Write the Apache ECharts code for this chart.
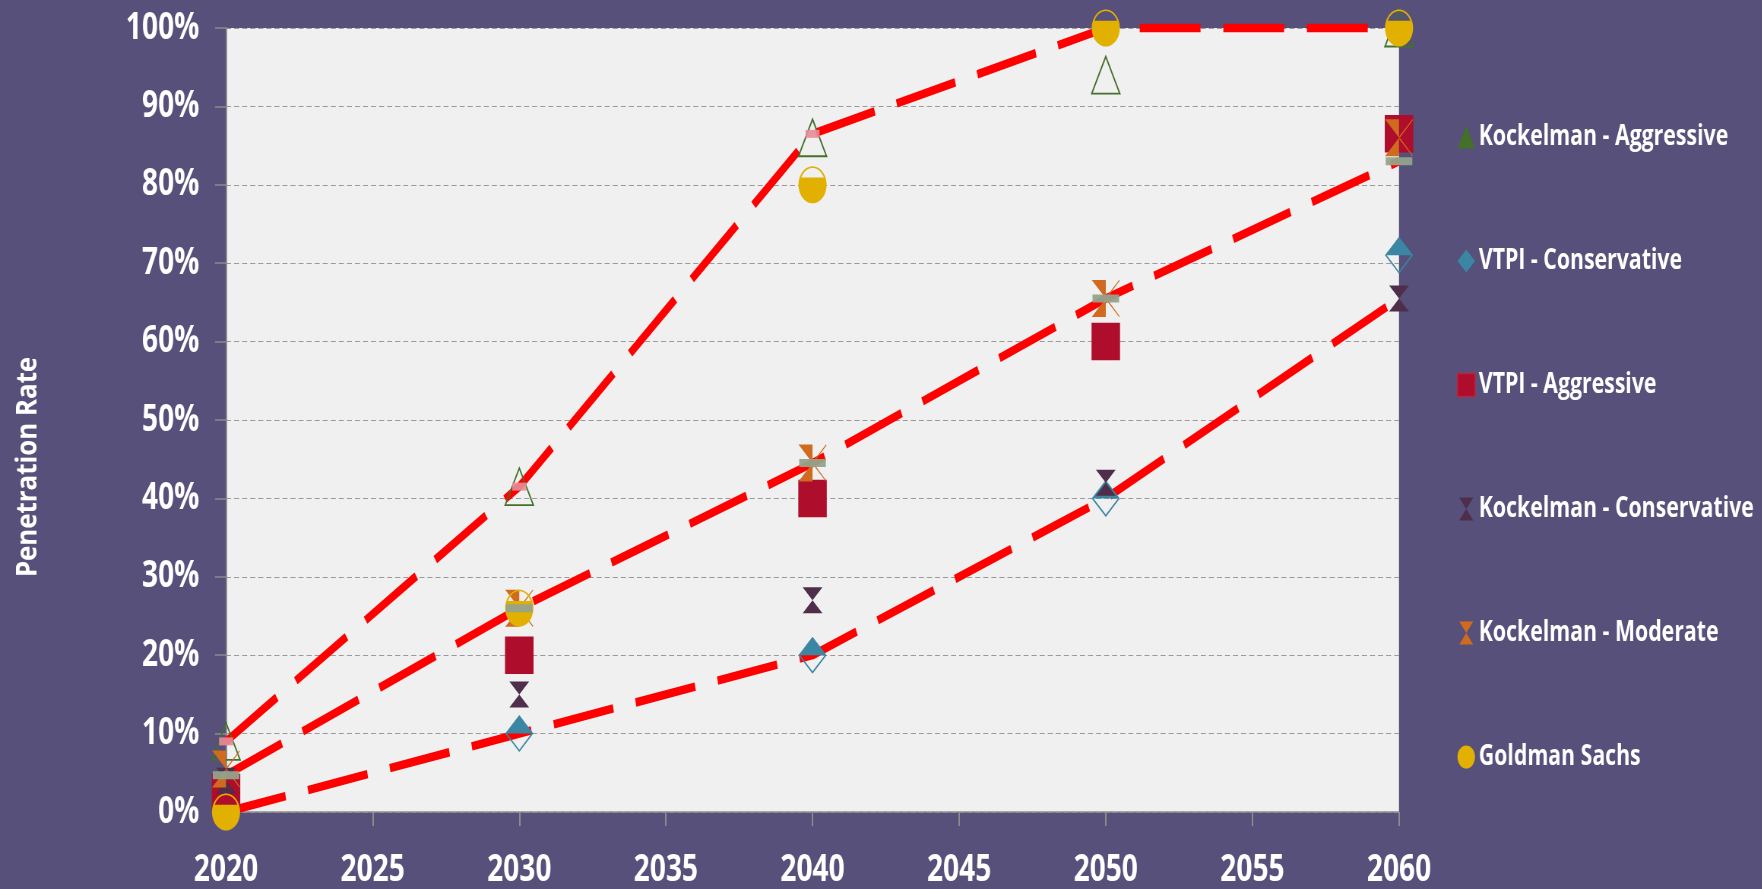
<!DOCTYPE html>
<html>
<head>
<meta charset="utf-8">
<script src="https://cdn.jsdelivr.net/npm/echarts/dist/echarts.min.js"></script>
<style>
html,body{margin:0;padding:0;background:#56507A;overflow:hidden;width:1762px;height:889px;}
/* the reference picture is horizontally compressed; draw wide and compress the same way */
#chart{width:2318px;height:889px;transform:scaleX(0.76);transform-origin:0 0;}
</style>
</head>
<body>
<div id="chart"></div>
<script>
// ---- data ----
const years = [2020, 2030, 2040, 2050, 2060];
const xTicks = [2020, 2025, 2030, 2035, 2040, 2045, 2050, 2055, 2060];
const yTicks = [0, 10, 20, 30, 40, 50, 60, 70, 80, 90, 100];
const kockelmanAggressive = [9, 41.5, 86, 94, 100];
const vtpiConservative = [1, 10, 20, 40, 71];
const vtpiAggressive = [2.5, 20, 40, 60, 86.5];
const kockelmanConservative = [4, 15, 27, 42, 65.5];
const kockelmanModerate = [5.5, 26, 44.5, 65.5, 86];
const goldmanSachs = [0, 26, 80, 100, 100];
const upperTrend = [9, 41.5, 86.5, 100, 100];
const middleTrend = [4.7, 26, 44.5, 65.5, 83];
const lowerTrend = [0, 10, 20, 40, 65.5];
const seriesNames = ['Kockelman - Aggressive', 'VTPI - Conservative', 'VTPI - Aggressive',
  'Kockelman - Conservative', 'Kockelman - Moderate', 'Goldman Sachs'];
const yTitle = 'Penetration Rate';

function pairs(vals) { return years.map((y, i) => [y, vals[i]]); }

// ---- marker shapes ----
const FONT = "'Open Sans', Lato, sans-serif";
const hourglass = 'path://M0,0L20,0L10,12.5L20,25L0,25L10,12.5Z';
const halfBowtie = 'path://M0,0L14,0L14,37L0,37L14,18.5Z M14,17.6L27.3,0L28,0.6L14.8,18.5Z M14.8,18.5L28,36.4L27.3,37L14,19.4Z';
const halfDiamond = 'path://M14,0L28,18.5L0,18.5Z M0,18.5L14,37L28,18.5L26.2,18.5L14,34.6L1.8,18.5Z';
function ellipsePt(cx, cy, rx, ry, t) { return [cx + rx * Math.cos(t), cy + ry * Math.sin(t)]; }
function fmt(p) { return p[0].toFixed(2) + ',' + p[1].toFixed(2); }
function goldmanPath() {
  const cx = 14, cy = 18.5, rx = 14, ry = 18.5;
  const a = Math.asin((11.3 - cy) / ry);
  let s = 'path://';
  const n = 40;
  for (let i = 0; i <= n; i++) {
    const t = a + (Math.PI - 2 * a) * i / n;
    s += (i === 0 ? 'M' : 'L') + fmt(ellipsePt(cx, cy, rx, ry, t));
  }
  s += 'Z ';
  const t0 = Math.PI + a - 0.05, t1 = 2 * Math.PI - a + 0.05;
  for (let i = 0; i <= n; i++) {
    const t = t0 + (t1 - t0) * i / n;
    s += (i === 0 ? 'M' : 'L') + fmt(ellipsePt(cx, cy, rx, ry, t));
  }
  for (let i = n; i >= 0; i--) {
    const t = t0 + (t1 - t0) * i / n;
    s += 'L' + fmt(ellipsePt(cx, cy, rx - 1.6, ry - 1.6, t));
  }
  s += 'Z';
  return s;
}

const C = {
  green: '#44702A', teal: '#3B87A3', crimson: '#AE0D2B', purple: '#4E2E4A',
  orange: '#CF6A1F', yellow: '#E2B000', pink: '#E88C98', sage: '#94A38C', red: '#FF0000'
};

const chart = echarts.init(document.getElementById('chart'));

function trendLine(name, vals) {
  return {
    name: name, type: 'line', data: pairs(vals), showSymbol: false, symbol: 'none',
    clip: false, z: 2, silent: true,
    lineStyle: { color: C.red, width: 8.5, type: [80, 30], cap: 'butt', opacity: 1 }
  };
}
function scatter(name, vals, symbol, size, itemStyle, z) {
  return { name: name, type: 'scatter', data: pairs(vals), symbol: symbol, symbolSize: size,
    itemStyle: Object.assign({ opacity: 1 }, itemStyle), z: z, clip: false, silent: true };
}

const option = {
  backgroundColor: '#56507A',
  animation: false,
  grid: { left: 297.4, right: 477.2, top: 28, bottom: 73, show: true, backgroundColor: '#F0F0F0', borderWidth: 0 },
  xAxis: {
    type: 'value', min: xTicks[0], max: xTicks[xTicks.length - 1], interval: 5,
    axisLine: { show: true, onZero: false, lineStyle: { color: '#8C8C8C', width: 1.5 } },
    axisTick: { show: true, length: 14, lineStyle: { color: '#8C8C8C', width: 2 } },
    splitLine: { show: false },
    axisLabel: { color: '#FFFFFF', fontFamily: FONT, fontWeight: 'bold', fontSize: 37, margin: 40,
      formatter: v => String(v) }
  },
  yAxis: {
    type: 'value', min: yTicks[0], max: yTicks[yTicks.length - 1], interval: 10,
    axisLine: { show: true, lineStyle: { color: '#8C8C8C', width: 2 } },
    axisTick: { show: true, length: 14.5, lineStyle: { color: '#8C8C8C', width: 1.5 } },
    splitLine: { show: true, lineStyle: { color: '#9A9A9A', width: 1, type: [6.6, 4] } },
    axisLabel: { color: '#FFFFFF', fontFamily: FONT, fontWeight: 'bold', fontSize: 37, margin: 35,
      padding: [0, 0, 8, 0], formatter: '{value}%' }
  },
  legend: {
    orient: 'vertical', left: 1917, top: 123, padding: 0, itemGap: 96,
    itemWidth: 23, itemHeight: 23, selectedMode: false,
    textStyle: { color: '#FFFFFF', fontFamily: FONT, fontWeight: 'bold', fontSize: 28 },
    data: [
      { name: seriesNames[0], icon: 'triangle', itemStyle: { color: C.green, borderWidth: 0, opacity: 1 } },
      { name: seriesNames[1], icon: 'diamond', itemStyle: { color: C.teal, borderWidth: 0, opacity: 1 } },
      { name: seriesNames[2], icon: 'rect', itemStyle: { color: C.crimson, borderColor: '#C4203E', borderWidth: 1.5, opacity: 1 } },
      { name: seriesNames[3], icon: hourglass, itemStyle: { color: C.purple, borderWidth: 0, opacity: 1 } },
      { name: seriesNames[4], icon: hourglass, itemStyle: { color: C.orange, borderWidth: 0, opacity: 1 } },
      { name: seriesNames[5], icon: 'circle', itemStyle: { color: C.yellow, borderWidth: 0, opacity: 1 } }
    ]
  },
  graphic: [{
    type: 'text', silent: true,
    x: 36.8, y: 467, rotation: Math.PI / 2, scaleX: 0.68, scaleY: 1,
    style: { text: yTitle, fill: '#FFFFFF', font: "bold 38px 'Open Sans', sans-serif",
      align: 'center', verticalAlign: 'middle' }
  }],
  series: [
    trendLine('upper trend', upperTrend),
    trendLine('middle trend', middleTrend),
    trendLine('lower trend', lowerTrend),
    scatter(seriesNames[0], kockelmanAggressive, 'triangle', [37, 37],
      { color: 'rgba(0,0,0,0)', borderColor: C.green, borderWidth: 1.8 }, 3),
    scatter(seriesNames[1], vtpiConservative, halfDiamond, [37, 37], { color: C.teal }, 4),
    scatter(seriesNames[2], vtpiAggressive, 'rect', [37.5, 37.5], { color: C.crimson }, 5),
    scatter(seriesNames[3], kockelmanConservative, hourglass, [26, 26], { color: C.purple }, 6),
    scatter(seriesNames[4], kockelmanModerate, halfBowtie, [37, 37], { color: C.orange }, 7),
    scatter(seriesNames[5], goldmanSachs, goldmanPath(), [37, 37], { color: C.yellow }, 8),
    scatter('upper trend points', upperTrend.slice(0, 3), 'rect', [18.4, 8], { color: C.pink, opacity: 0.9 }, 9),
    scatter('middle trend points', middleTrend, 'rect', [35, 8], { color: C.sage, opacity: 0.95 }, 9)
  ]
};
chart.setOption(option);
</script>
</body>
</html>
